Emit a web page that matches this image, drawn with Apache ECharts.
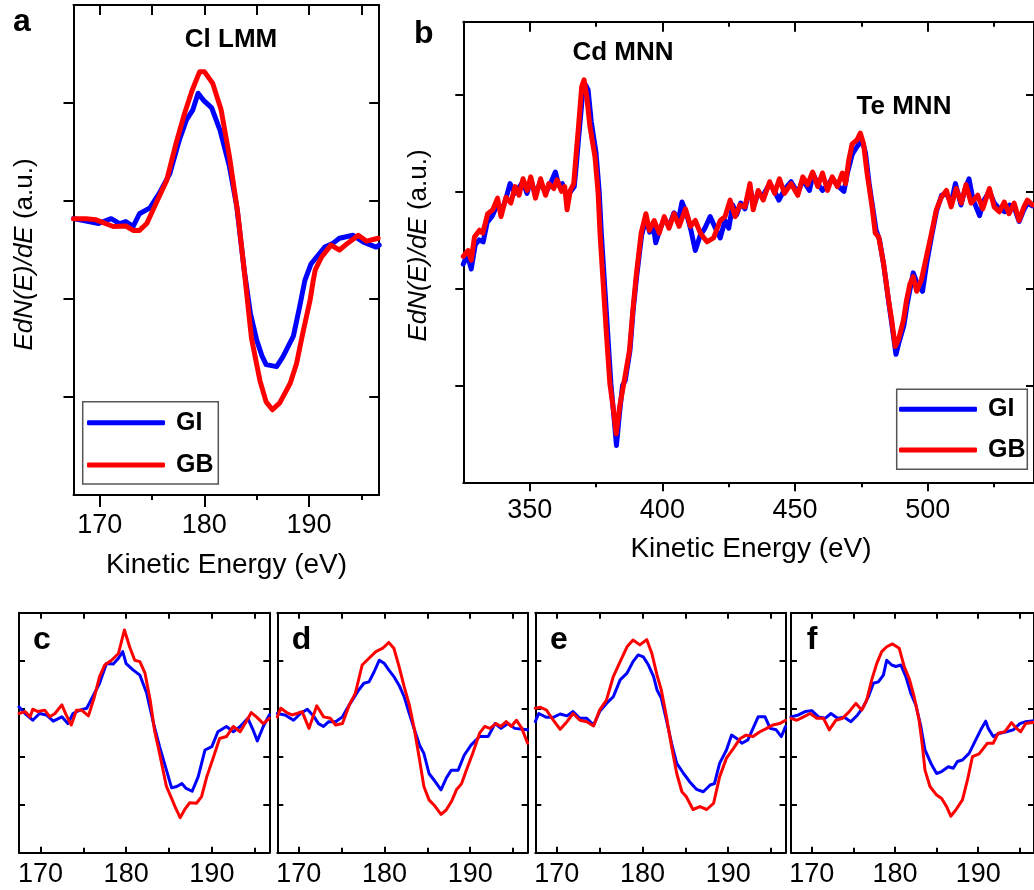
<!DOCTYPE html>
<html>
<head>
<meta charset="utf-8">
<script src="https://cdn.jsdelivr.net/npm/echarts@6/dist/echarts.min.js"></script>
<style>html,body{margin:0;padding:0;background:#fff}#c{width:1034px;height:890px}</style>
</head>
<body>
<div id="c"></div>
<script>
// ---------- tick labels ----------
const tickLowMajor = [170, 180, 190];
const tickLowMinor = [175, 185, 195];
const tickWideMajor = [350, 400, 450, 500];
const tickWideMinor = [375, 425, 475, 525];
const tickY = [1, 2, 3, 4];

// ---------- panel a : Cl LMM ----------
const aGI_E = [167.5,169.9,171.1,171.9,172.5,173.2,173.8,174.8,175.7,176.7,177.6,178.3,178.9,179.4,179.9,180.7,181.5,182.4,183.1,183.8,184.4,185.0,185.5,185.9,186.9,187.5,188.5,189.1,189.6,190.2,191.5,192.3,192.9,194.2,195.2,196.4,196.7];
const aGI_S = [2.82,2.77,2.82,2.77,2.79,2.74,2.87,2.93,3.08,3.28,3.62,3.83,3.93,4.10,4.03,3.95,3.72,3.35,2.94,2.30,1.85,1.58,1.42,1.33,1.31,1.41,1.62,1.92,2.19,2.36,2.53,2.57,2.62,2.65,2.58,2.53,2.55];
const aGB_E = [167.5,168.7,169.6,171.3,172.5,173.2,173.8,174.5,175.4,176.4,177.3,178.1,178.8,179.55,180.0,180.8,181.6,182.4,183.2,183.9,184.5,185.3,185.9,186.5,187.2,188.2,188.8,189.4,190.1,190.4,190.6,191.2,192.1,192.9,193.7,194.7,195.5,196.6];
const aGB_S = [2.82,2.82,2.81,2.74,2.745,2.70,2.70,2.77,2.98,3.21,3.59,3.89,4.12,4.32,4.32,4.20,3.93,3.45,2.87,2.20,1.60,1.17,0.95,0.87,0.94,1.14,1.34,1.65,1.99,2.19,2.30,2.43,2.55,2.50,2.57,2.65,2.59,2.62];

// ---------- panel b : Cd MNN / Te MNN ----------
const bGI_E = [325.0,326.5,328.0,329.5,331.0,332.5,334.0,336.0,338.0,339.5,341.0,342.6,344.5,346.0,347.5,349.0,350.5,352.2,354.0,356.0,357.5,359.7,361.0,362.3,364.0,365.5,366.8,367.5,368.8,370.0,371.0,372.0,373.2,375.0,376.2,377.0,378.2,379.4,380.6,381.6,382.7,383.8,385.0,386.0,387.8,389.0,390.3,392.2,393.8,395.2,396.5,397.5,399.0,400.7,402.5,404.4,406.0,407.4,409.0,410.6,412.4,414.3,416.0,418.0,420.0,421.8,423.6,425.0,426.5,428.0,429.5,431.1,433.0,434.5,436.1,438.0,440.4,442.3,443.9,446.0,448.5,451.0,452.9,455.4,456.8,458.5,460.3,462.2,464.0,466.0,468.4,469.8,471.5,473.3,475.2,476.5,477.9,479.2,480.5,481.8,483.5,485.3,486.5,488.0,489.2,491.0,492.3,493.5,494.5,496.0,498.0,499.7,501.5,503.3,505.2,507.0,508.8,510.4,512.5,514.0,515.5,517.0,519.5,521.0,523.2,525.0,527.0,529.0,530.8,532.5,534.4,536.0,537.5,539.5];
const bGI_S = [2.25,2.35,2.20,2.45,2.50,2.48,2.68,2.75,2.88,2.80,2.92,3.08,2.98,3.04,3.10,2.98,3.12,2.96,3.10,2.98,3.06,3.20,3.06,3.08,2.95,3.00,3.05,3.25,3.66,4.02,4.10,4.05,3.72,3.40,3.00,2.57,2.05,1.54,1.02,0.72,0.38,0.70,1.00,1.05,1.36,1.78,2.12,2.55,2.72,2.58,2.66,2.47,2.60,2.72,2.64,2.78,2.70,2.89,2.78,2.62,2.39,2.55,2.62,2.74,2.62,2.52,2.70,2.62,2.86,2.76,2.88,2.82,3.04,2.86,2.98,2.96,3.08,3.00,2.91,3.02,3.10,2.98,3.12,3.01,3.18,3.08,3.01,3.06,3.14,3.06,3.00,3.20,3.38,3.46,3.53,3.40,3.08,2.84,2.60,2.50,2.22,1.85,1.62,1.32,1.45,1.62,1.85,2.02,2.16,2.05,1.97,2.28,2.55,2.80,2.96,2.98,2.88,3.08,2.86,3.02,3.13,2.92,2.75,2.90,3.00,2.88,2.82,2.79,2.86,2.84,2.69,2.80,2.88,2.85];
const bGB_E = [325.0,326.8,328.0,329.2,331.1,332.3,334.2,336.1,337.9,339.2,341.1,342.9,344.5,346.0,347.5,349.1,350.4,352.2,354.1,356.0,357.2,359.1,360.3,362.0,363.2,364.1,365.3,366.6,367.1,368.4,369.6,370.5,371.5,372.7,374.6,375.8,376.5,377.7,378.9,380.2,381.4,382.6,383.9,385.8,387.6,388.9,390.1,392.0,393.8,395.1,396.9,398.8,400.7,402.5,404.4,406.3,408.7,410.6,412.4,414.3,416.8,419.3,421.8,423.6,425.5,427.4,429.2,431.1,433.0,434.2,436.1,438.0,440.4,442.3,444.1,446.0,448.5,451.0,452.9,454.7,456.6,458.5,460.3,462.2,464.0,465.9,467.8,469.0,470.2,471.5,473.3,474.6,475.8,477.1,477.7,479.0,480.2,481.5,483.3,485.2,486.4,487.7,488.9,490.8,492.0,493.3,494.5,495.8,497.6,499.5,501.4,503.2,505.1,507.0,508.8,510.7,512.6,514.4,516.3,518.8,520.7,523.2,525.0,526.9,528.8,530.6,532.5,534.4,536.2,537.5,539.5];
const bGB_S = [2.33,2.39,2.29,2.53,2.60,2.57,2.77,2.81,2.93,2.74,2.94,2.88,3.05,2.96,3.13,3.01,3.15,2.93,3.13,2.96,3.08,3.03,3.12,3.00,3.05,2.81,3.01,3.08,3.25,3.67,4.08,4.15,3.98,3.67,3.36,2.98,2.57,2.05,1.54,1.02,0.78,0.50,0.78,1.07,1.36,1.78,2.12,2.57,2.77,2.60,2.70,2.57,2.74,2.62,2.77,2.64,2.82,2.64,2.70,2.57,2.48,2.52,2.70,2.74,2.91,2.74,2.86,2.84,3.08,2.81,3.01,2.91,3.10,2.98,3.13,2.98,3.08,2.96,3.15,3.07,3.20,3.05,3.19,3.01,3.15,3.05,3.19,3.08,3.32,3.49,3.53,3.60,3.49,3.19,3.08,2.84,2.57,2.53,2.26,1.88,1.67,1.40,1.47,1.67,1.88,2.05,2.12,1.97,2.09,2.33,2.57,2.81,2.94,3.01,2.84,3.03,2.88,3.07,2.88,2.96,2.82,3.03,2.84,2.79,2.89,2.77,2.88,2.70,2.84,2.91,2.86];

// ---------- panel c ----------
const cGI_E = [167.5,168.2,169.1,169.9,170.7,171.5,172.5,173.2,173.8,174.6,175.4,176.1,176.9,177.7,178.5,179.1,179.6,180.0,180.8,181.6,182.4,183.2,183.9,184.7,185.3,185.9,186.5,187.0,187.7,188.4,189.2,190.0,190.7,191.7,192.5,193.3,194.2,194.8,195.3,196.0,196.7];
const cGI_S = [3.04,2.90,2.76,2.90,2.87,2.74,2.83,2.69,2.90,2.97,3.01,3.25,3.53,3.94,3.93,4.05,4.19,3.94,3.81,3.70,3.32,2.69,2.21,1.72,1.35,1.38,1.44,1.34,1.28,1.58,2.14,2.21,2.52,2.63,2.52,2.63,2.80,2.56,2.33,2.63,2.87];
const cGB_E = [167.5,168.2,168.8,169.1,169.7,170.5,171.1,171.7,172.5,173.0,173.6,174.2,174.8,175.6,176.3,176.9,177.5,178.3,179.1,179.8,180.4,181.0,181.6,182.2,182.8,183.3,183.9,184.7,185.3,185.7,186.3,186.8,187.4,188.2,188.8,189.4,190.2,190.9,191.7,192.5,193.3,194.0,194.6,195.2,196.0,196.7];
const cGB_S = [2.90,2.94,2.83,2.99,2.94,2.97,2.83,2.90,3.08,2.87,2.66,2.97,2.97,2.85,3.25,3.67,3.91,4.01,4.15,4.64,4.29,4.01,3.98,3.74,3.18,2.56,2.07,1.38,1.13,0.96,0.73,0.89,1.04,1.03,1.17,1.58,2.00,2.38,2.42,2.63,2.52,2.73,2.92,2.83,2.69,2.80];

// ---------- panel d ----------
const dGI_E = [167.5,168.4,169.4,170.2,171.0,171.8,172.3,172.9,173.5,174.3,175.1,175.9,176.4,177.0,177.6,178.2,178.8,179.4,180.0,180.5,181.1,181.7,182.3,182.9,183.5,184.1,184.6,185.2,185.8,186.6,187.2,187.8,188.6,189.3,190.1,191.1,192.1,192.9,193.6,194.4,195.2,196.7];
const dGI_S = [2.90,2.87,2.76,2.90,2.99,2.83,2.69,2.63,2.73,2.73,2.83,3.08,3.22,3.39,3.53,3.56,3.77,4.01,3.94,3.81,3.67,3.49,3.25,2.90,2.56,2.24,2.07,1.65,1.51,1.31,1.55,1.72,1.72,2.03,2.24,2.42,2.42,2.69,2.59,2.69,2.59,2.56];
const dGB_E = [167.5,167.9,168.6,169.2,169.8,170.4,171.2,172.1,172.9,173.7,174.3,175.1,175.9,176.6,177.4,178.2,179.0,179.8,180.5,181.1,181.7,182.3,182.9,183.5,184.1,184.6,185.2,185.8,186.6,187.2,187.8,188.4,189.0,189.5,190.3,191.1,191.7,192.3,193.0,193.6,194.2,194.8,195.4,196.0,196.7];
const dGB_S = [2.83,3.01,2.92,2.87,2.90,2.94,2.59,3.06,2.83,2.80,2.66,2.69,3.08,3.32,3.91,4.05,4.19,4.26,4.38,4.26,3.88,3.46,3.08,2.56,1.93,1.38,1.10,0.99,0.80,0.89,1.06,1.31,1.44,1.69,2.07,2.49,2.63,2.59,2.69,2.63,2.73,2.63,2.76,2.60,2.28];

// ---------- panel e ----------
const eGI_E = [167.5,167.9,168.8,169.6,170.4,171.2,171.9,172.7,173.5,174.3,175.0,175.8,176.6,177.4,178.2,178.9,179.5,180.1,180.7,181.3,181.7,182.2,182.8,183.4,184.0,184.8,185.5,186.3,187.1,187.9,188.4,189.0,189.8,190.4,191.0,191.6,192.3,192.9,193.5,194.3,194.9,195.6,196.2,196.7];
const eGI_S = [2.73,2.90,2.82,2.82,2.89,2.85,2.94,2.80,2.80,2.66,2.94,3.11,3.25,3.60,3.74,3.98,4.12,4.08,3.91,3.67,3.39,3.22,2.76,2.28,1.86,1.65,1.48,1.32,1.27,1.41,1.44,1.86,2.14,2.45,2.38,2.28,2.35,2.59,2.83,2.83,2.59,2.56,2.42,2.63];
const eGB_E = [167.5,168.1,168.8,169.6,170.4,171.2,171.9,172.7,173.5,174.3,175.0,175.8,176.6,177.4,178.2,178.9,179.7,180.5,181.1,181.7,182.2,182.8,183.4,184.0,184.6,185.1,185.9,186.7,187.5,188.3,189.0,189.8,190.6,191.4,192.1,192.9,193.7,194.5,195.2,196.0,196.7];
const eGB_S = [3.01,3.03,2.97,2.76,2.57,2.73,2.90,2.76,2.73,2.64,2.97,3.18,3.67,3.98,4.29,4.43,4.33,4.44,4.15,3.70,3.39,2.83,2.21,1.65,1.27,1.17,0.90,0.96,0.90,1.03,1.58,1.97,2.17,2.38,2.45,2.42,2.52,2.59,2.66,2.69,2.76];

// ---------- panel f ----------
const fGI_E = [167.5,168.4,169.2,170.0,170.8,171.6,172.3,173.1,173.9,174.7,175.5,176.2,176.8,177.4,178.0,178.6,179.0,179.6,180.1,180.7,181.3,181.9,182.5,183.1,183.6,184.4,185.0,185.6,186.4,187.0,187.5,188.1,188.9,189.7,190.3,190.9,191.2,191.8,192.6,193.4,194.2,195.0,195.7,196.7];
const fGI_S = [2.83,2.87,2.94,2.96,2.83,2.80,2.90,2.80,2.82,2.73,2.87,3.04,3.25,3.53,3.56,3.70,4.01,3.91,3.88,3.91,3.67,3.32,3.08,2.63,2.14,1.83,1.65,1.69,1.79,1.76,1.90,1.93,2.07,2.35,2.56,2.74,2.59,2.42,2.49,2.52,2.56,2.69,2.73,2.75];
const fGB_E = [167.5,168.2,169.0,169.8,170.6,171.4,172.1,172.9,173.7,174.5,175.3,176.0,176.6,177.2,177.8,178.4,179.0,179.7,180.5,181.1,181.7,182.3,182.9,183.3,183.6,184.2,185.0,185.6,186.2,186.7,187.3,188.1,188.7,189.3,190.1,191.1,191.8,192.4,193.2,194.0,194.6,195.1,195.7,196.7];
const fGB_S = [2.80,2.76,2.83,2.90,2.80,2.80,2.56,2.76,2.80,2.94,3.11,2.97,3.18,3.60,3.94,4.19,4.29,4.35,4.26,3.88,3.63,3.25,2.76,2.21,1.72,1.38,1.20,1.13,0.96,0.76,0.89,1.10,1.51,2.00,2.06,2.28,2.28,2.49,2.52,2.71,2.59,2.52,2.69,2.72];

// ---------- texts ----------
const seriesNames = ['GI', 'GB'];
const seriesColors = ['#0000FF', '#FF0000'];
const xAxisTitle = 'Kinetic Energy (eV)';
const yAxisTitle = '{i|EdN(E)/dE} (a.u.)';

const FONT = '"Liberation Sans", Arial, Helvetica, sans-serif';
const chart = echarts.init(document.getElementById('c'), null, {renderer: 'canvas', width: 1034, height: 890});

const grids = [], xAxes = [], yAxes = [], series = [];
const black = {color: '#000', width: 2};

function panel(p) {
  const gi = grids.length;
  grids.push({left: p.left, top: p.top, width: p.width, height: p.height, containLabel: false});
  const base = {type: 'value', gridIndex: gi, min: p.xmin, max: p.xmax, splitLine: {show: false}};
  const xi = xAxes.length;
  xAxes.push(Object.assign({}, base, {position: 'bottom',
    axisLine: {show: true, onZero: false, lineStyle: black},
    axisTick: {show: true, customValues: p.xMajor, inside: p.inside, length: p.bMajor, lineStyle: black},
    axisLabel: {show: true, customValues: p.xMajor, margin: p.margin, color: '#000', fontSize: 27, fontFamily: FONT}}));
  xAxes.push(Object.assign({}, base, {position: 'bottom',
    axisLine: {show: false, onZero: false},
    axisTick: {show: true, customValues: p.xMinor, inside: p.inside, length: p.bMinor, lineStyle: black},
    axisLabel: {show: false}}));
  xAxes.push(Object.assign({}, base, {position: 'top',
    axisLine: {show: true, onZero: false, lineStyle: black},
    axisTick: {show: true, customValues: p.xMajor, inside: true, length: p.tMajor, lineStyle: black},
    axisLabel: {show: false}}));
  xAxes.push(Object.assign({}, base, {position: 'top',
    axisLine: {show: false, onZero: false},
    axisTick: {show: true, customValues: p.xMinor, inside: true, length: p.tMinor, lineStyle: black},
    axisLabel: {show: false}}));
  const yb = {type: 'value', gridIndex: gi, min: 0, max: p.ymax, splitLine: {show: false}, axisLabel: {show: false}};
  const yi = yAxes.length;
  yAxes.push(Object.assign({}, yb, {position: 'left',
    axisLine: {show: true, onZero: false, lineStyle: black},
    axisTick: {show: true, customValues: tickY, inside: p.inside, length: p.yLen, lineStyle: black}}));
  yAxes.push(Object.assign({}, yb, {position: 'right',
    axisLine: {show: true, onZero: false, lineStyle: black},
    axisTick: {show: true, customValues: tickY, inside: true, length: p.yLen, lineStyle: black}}));
  p.data.forEach(function (d, k) {
    series.push({
      type: 'line', name: seriesNames[k], xAxisIndex: xi, yAxisIndex: yi,
      data: d[0].map(function (e, i) { return [e, d[1][i]]; }),
      showSymbol: false, symbol: 'none', smooth: false, clip: true,
      lineStyle: {color: seriesColors[k], width: p.lw, cap: 'round', join: 'round'},
      itemStyle: {color: seriesColors[k]},
      emphasis: {disabled: true}, silent: true, animation: false, z: 2 + k
    });
  });
}

panel({left: 73.5, top: 5, width: 305.7, height: 490, xmin: 167.5, xmax: 196.7, ymax: 5,
  xMajor: tickLowMajor, xMinor: tickLowMinor, inside: false, bMajor: 12, bMinor: 5, tMajor: 10, tMinor: 10,
  yLen: 10, margin: 17, lw: 5, data: [[aGI_E, aGI_S], [aGB_E, aGB_S]]});
panel({left: 463.3, top: 21.7, width: 577, height: 460.6, xmin: 325, xmax: 540, ymax: 4.75,
  xMajor: tickWideMajor, xMinor: tickWideMinor, inside: false, bMajor: 9, bMinor: 5, tMajor: 10, tMinor: 5,
  yLen: 8, margin: 15, lw: 5, data: [[bGI_E, bGI_S], [bGB_E, bGB_S]]});
const lowerLefts = [19, 277.3, 535.3, 791];
const lowerData = [
  [[cGI_E, cGI_S], [cGB_E, cGB_S]],
  [[dGI_E, dGI_S], [dGB_E, dGB_S]],
  [[eGI_E, eGI_S], [eGB_E, eGB_S]],
  [[fGI_E, fGI_S], [fGB_E, fGB_S]]
];
lowerLefts.forEach(function (l, k) {
  panel({left: l, top: 612.7, width: 250.3, height: 240, xmin: 167.5, xmax: 196.7, ymax: 5,
    xMajor: tickLowMajor, xMinor: tickLowMinor, inside: true, bMajor: 6, bMinor: 5, tMajor: 6, tMinor: 6,
    yLen: 6, margin: 8, lw: 3, data: lowerData[k]});
});

function txt(text, x, y, size, weight, align, extra) {
  return Object.assign({type: 'text', x: x, y: y, z: 100,
    style: {text: text, fill: '#000', fontSize: size, fontWeight: weight, fontFamily: FONT,
      align: align || 'center', verticalAlign: 'middle'}}, extra || {});
}
const richY = {i: {fontStyle: 'italic', fontSize: 26, fontFamily: FONT, fill: '#000'}};
function ytitle(x, y) {
  return {type: 'text', x: x, y: y, rotation: Math.PI / 2, z: 100,
    style: {text: yAxisTitle, rich: richY, fill: '#000', fontSize: 26, fontFamily: FONT,
      align: 'center', verticalAlign: 'middle'}};
}

const graphics = [
  txt('a', 13, 22, 32, 'bold', 'left'),
  txt('b', 414, 34, 32, 'bold', 'left'),
  txt('c', 33, 640.5, 32, 'bold', 'left'),
  txt('d', 291.7, 640.5, 32, 'bold', 'left'),
  txt('e', 550, 640, 32, 'bold', 'left'),
  txt('f', 806.7, 640, 32, 'bold', 'left'),
  txt('Cl LMM', 231, 39.5, 26, 'bold'),
  txt('Cd MNN', 623, 53, 26, 'bold'),
  txt('Te MNN', 904, 106.7, 26, 'bold'),
  txt(xAxisTitle, 226.5, 565, 28, 'normal'),
  txt(xAxisTitle, 751, 549, 28, 'normal'),
  ytitle(25, 254.5),
  ytitle(419, 245.5),
  {type: 'rect', z: 90, shape: {x: 82.7, y: 401.7, width: 135.6, height: 82.3}, style: {fill: 'none', stroke: '#555', lineWidth: 1.5}},
  {type: 'rect', z: 90, shape: {x: 896.7, y: 389.3, width: 130.6, height: 80}, style: {fill: 'none', stroke: '#555', lineWidth: 1.5}}
];

const legendBase = {data: seriesNames, orient: 'vertical', itemWidth: 78, itemHeight: 5, icon: 'roundRect',
  selectedMode: false, padding: 0,
  textStyle: {fontSize: 25, fontWeight: 'bold', fontFamily: FONT, color: '#000', lineHeight: 26, padding: [0, 0, 0, 6]}};

chart.setOption({
  backgroundColor: '#fff',
  animation: false,
  grid: grids,
  xAxis: xAxes,
  yAxis: yAxes,
  series: series,
  legend: [
    Object.assign({}, legendBase, {left: 87, top: 409.7, itemGap: 16.3}),
    Object.assign({}, legendBase, {left: 899, top: 396.3, itemGap: 14.7})
  ],
  graphic: graphics
});
</script>
</body>
</html>
